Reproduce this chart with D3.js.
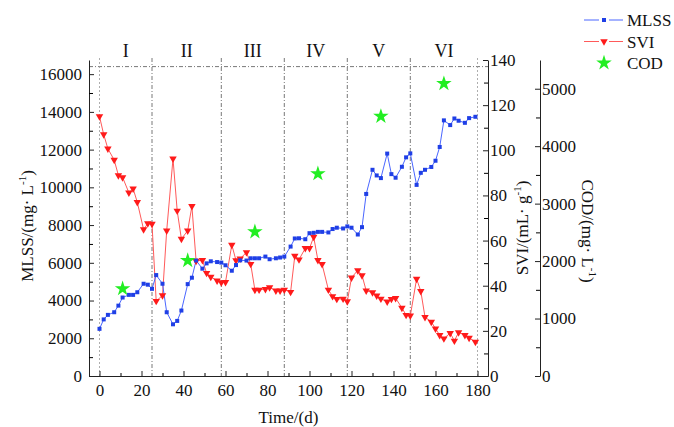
<!DOCTYPE html>
<html>
<head>
<meta charset="utf-8">
<script src="https://cdn.jsdelivr.net/npm/d3@7"></script>
<style>
    body { margin: 0; background: #fff; }
    svg text { font-family: "Liberation Serif", "Times New Roman", serif; fill: #111; }
</style>
</head>
<body>
<svg id="chart" width="674" height="427"></svg>
<script>
// MLSS (mg/L)
const mlssDays = [0, 2, 4, 7, 9, 11, 14, 16, 18, 21, 23, 25, 27, 30, 32, 35, 37, 39, 42, 44, 46, 49,
    51, 53, 56, 58, 60, 63, 65, 67, 70, 72, 74, 76, 79, 81, 84, 86, 88, 91, 93, 95, 98,
    100, 102, 104, 106, 109, 111, 113, 116, 118, 120, 123, 125, 127, 130, 132, 134, 137, 139,
    141, 144, 146, 148, 151, 153, 155, 158, 160, 162, 164, 167, 169, 171, 174, 176, 179];
const mlssValues = [2500, 3000, 3240, 3380, 3730, 4160, 4300, 4300, 4440, 4890, 4840, 4620, 5350, 4890, 3380, 2740, 2920, 3470, 4870, 5210, 6120, 5690,
    5970, 6080, 6040, 6010, 5870, 5580, 5880, 6130, 6120, 6240, 6240, 6240, 6330, 6190, 6240, 6280, 6330, 6860, 7290, 7300, 7250,
    7570, 7590, 7640, 7640, 7610, 7790, 7860, 7820, 7930, 7860, 7500, 7890, 9650, 10930, 10630, 10490, 11790, 10700,
    10510, 11090, 11590, 11800, 10130, 10770, 10930, 11080, 11410, 12140, 13550, 13300, 13650, 13530, 13420, 13670, 13740];

// SVI (mL/g)
const sviDays = mlssDays;
const sviValues = [115, 107, 100.7, 95.7, 88.9, 88, 81.2, 83, 77, 64.9, 67.6, 67.4, 33.2, 35.7, 64.4, 96.3, 73.2, 60.7, 64.4, 75.2, 51, 51.3,
    45.6, 43.9, 42.2, 41.5, 41.6, 58.1, 51.2, 52, 54.8, 49.6, 38.1, 38.2, 38.5, 39.2, 37.8, 37.8, 38.2, 37.2, 53.2, 51.6, 56.6,
    56.6, 61.6, 51.3, 49.5, 38.2, 35.3, 34.1, 34.2, 33, 43.6, 46.8, 44.6, 37.8, 37, 35.6, 34.2, 32.9, 34.1,
    34.5, 30.2, 27, 26.7, 43, 37.6, 26.1, 24, 21, 18.1, 16.6, 19, 15.6, 19.3, 18.1, 16.9, 15.1];

// COD (mg/L), one value per stage
const codDays = [11, 42, 74, 104, 134, 164];
const codValues = [1520, 2010, 2510, 3520, 4520, 5090];

// stages
const stageNames = ['I', 'II', 'III', 'IV', 'V', 'VI'];
const stageBounds = [0, 25, 58, 88, 118, 148, 180];
const stageTopLine = 16400; // MLSS level of the dash-dot line

const xTicks = [0, 20, 40, 60, 80, 100, 120, 140, 160, 180];
const mlssTicks = [0, 2000, 4000, 6000, 8000, 10000, 12000, 14000, 16000];
const sviTicks = [0, 20, 40, 60, 80, 100, 120, 140];
const codTicks = [0, 1000, 2000, 3000, 4000, 5000];

const blue = '#1f3fe6';
const red = '#ff1a1a';
const green = '#22ee22';
const serif = '"Liberation Serif", "Times New Roman", serif';

let svg = d3.select('#chart');

let x = d3.scaleLinear().domain([-5, 185]).range([89, 488]);
let yMlss = d3.scaleLinear().domain([0, 16750]).range([376, 60]);
let ySvi = d3.scaleLinear().domain([0, 140]).range([376, 60]);
let yCod = d3.scaleLinear().domain([0, 5500]).range([376, 60]);
const codAxisX = 540;
const plain = d3.format('d');

// stage separators
let stageGroup = svg.append('g');
stageGroup.append('line')
    .attr('x1', x.range()[0]).attr('x2', x.range()[1])
    .attr('y1', yMlss(stageTopLine)).attr('y2', yMlss(stageTopLine))
    .attr('stroke', '#555').attr('stroke-width', 0.8)
    .attr('stroke-dasharray', '4,2,1,2');
stageGroup.selectAll('line.sep')
    .data(stageBounds)
    .join('line')
    .classed('sep', true)
    .attr('x1', d => x(d)).attr('x2', d => x(d))
    .attr('y1', yMlss.range()[1] - 2).attr('y2', yMlss(0))
    .attr('stroke', (d, i) => (i === 0 || i === stageBounds.length - 1) ? '#999' : '#555')
    .attr('stroke-width', 0.8)
    .attr('stroke-dasharray', (d, i) => (i === 0 || i === stageBounds.length - 1) ? '2,2' : '4,2,1,2');
stageGroup.selectAll('text')
    .data(stageNames)
    .join('text')
    .attr('x', (d, i) => x((stageBounds[i] + stageBounds[i + 1]) / 2))
    .attr('y', 57)
    .attr('text-anchor', 'middle')
    .attr('font-size', 18)
    .text(d => d);

// axes
function styleAxis(g) {
    g.attr('font-family', serif).attr('font-size', 17);
    g.selectAll('text').style('font-family', serif).attr('fill', '#111');
    g.selectAll('line, path').attr('stroke', '#222');
}

let xAxis = svg.append('g').attr('transform', `translate(0,${yMlss(0)})`)
    .call(d3.axisBottom(x).tickValues(xTicks).tickFormat(plain).tickSize(-5).tickSizeOuter(0).tickPadding(8));
svg.append('g').attr('transform', `translate(0,${yMlss(0)})`)
    .call(d3.axisBottom(x).tickValues(d3.range(10, 180, 20)).tickSize(-3).tickSizeOuter(0).tickFormat(''))
    .call(g => g.select('path').remove());
styleAxis(xAxis);

let leftAxis = svg.append('g').attr('transform', `translate(${x.range()[0]},0)`)
    .call(d3.axisLeft(yMlss).tickValues(mlssTicks).tickFormat(plain).tickSize(-5).tickSizeOuter(0).tickPadding(7));
svg.append('g').attr('transform', `translate(${x.range()[0]},0)`)
    .call(d3.axisLeft(yMlss).tickValues(d3.range(1000, 16750, 2000)).tickSize(-4).tickFormat(''))
    .call(g => g.select('path').remove());
styleAxis(leftAxis);

let sviAxis = svg.append('g').attr('transform', `translate(${x.range()[1]},0)`)
    .call(d3.axisRight(ySvi).tickValues(sviTicks).tickFormat(plain).tickSize(-5).tickSizeOuter(0).tickPadding(2));
svg.append('g').attr('transform', `translate(${x.range()[1]},0)`)
    .call(d3.axisRight(ySvi).tickValues(d3.range(10, 140, 20)).tickSize(-4).tickFormat(''))
    .call(g => g.select('path').remove());
styleAxis(sviAxis);

let codAxis = svg.append('g').attr('transform', `translate(${codAxisX},0)`)
    .call(d3.axisRight(yCod).tickValues(codTicks).tickFormat(plain).tickSize(-5).tickSizeOuter(0).tickPadding(2));
svg.append('g').attr('transform', `translate(${codAxisX},0)`)
    .call(d3.axisRight(yCod).tickValues(d3.range(500, 5500, 1000)).tickSize(-4).tickFormat(''))
    .call(g => g.select('path').remove());
styleAxis(codAxis);

// axis titles
function unitTitle(sel, main, tail) {
    sel.append('tspan').text(main);
    sel.append('tspan').attr('font-size', 11).attr('dy', -7).text('-1');
    sel.append('tspan').attr('dy', 7).text(tail);
}
svg.append('text')
    .attr('transform', 'translate(33,226) rotate(-90)')
    .attr('text-anchor', 'middle').attr('font-size', 17)
    .call(unitTitle, 'MLSS/(mg· L', ')');
svg.append('text')
    .attr('transform', 'translate(528,228) rotate(-90)')
    .attr('text-anchor', 'middle').attr('font-size', 17)
    .call(unitTitle, 'SVI/(mL· g', ')');
svg.append('text')
    .attr('transform', 'translate(582,231) rotate(90)')
    .attr('text-anchor', 'middle').attr('font-size', 17)
    .call(unitTitle, 'COD/(mg· L', ')');
svg.append('text')
    .attr('x', x(90)).attr('y', 423)
    .attr('text-anchor', 'middle').attr('font-size', 17)
    .text('Time/(d)');

// series
let mlss = mlssDays.map((d, i) => ({ day: d, value: mlssValues[i] }));
let svi = sviDays.map((d, i) => ({ day: d, value: sviValues[i] }));
let cod = codDays.map((d, i) => ({ day: d, value: codValues[i] }));

svg.append('path')
    .datum(svi)
    .attr('fill', 'none').attr('stroke', '#ff5a5a').attr('stroke-width', 1)
    .attr('d', d3.line().x(d => x(d.day)).y(d => ySvi(d.value)));
svg.append('path')
    .datum(mlss)
    .attr('fill', 'none').attr('stroke', '#4a66ff').attr('stroke-width', 1)
    .attr('d', d3.line().x(d => x(d.day)).y(d => yMlss(d.value)));

let triangle = d3.symbol().type(d3.symbolTriangle).size(24);
svg.append('g').selectAll('path')
    .data(svi)
    .join('path')
    .attr('d', triangle)
    .attr('transform', d => `translate(${x(d.day)},${ySvi(d.value)}) rotate(180)`)
    .attr('fill', red);

svg.append('g').selectAll('rect')
    .data(mlss)
    .join('rect')
    .attr('x', d => x(d.day) - 2).attr('y', d => yMlss(d.value) - 2)
    .attr('width', 4).attr('height', 4)
    .attr('fill', blue);

let star = d3.symbol().type(d3.symbolStar).size(75);
svg.append('g').selectAll('path')
    .data(cod)
    .join('path')
    .attr('d', star)
    .attr('transform', d => `translate(${x(d.day)},${yCod(d.value)})`)
    .attr('fill', green);

// legend
let legend = svg.append('g').attr('transform', 'translate(584,0)');
let legendItems = [
    { name: 'MLSS', color: '#4a66ff', mark: 'square' },
    { name: 'SVI', color: '#ff5a5a', mark: 'triangle' },
    { name: 'COD', color: null, mark: 'star' }
];
legendItems.forEach((item, i) => {
    let cy = 20 + i * 21.5;
    let row = legend.append('g');
    if (item.color) {
        row.append('line').attr('x1', 0).attr('x2', 15).attr('y1', cy).attr('y2', cy)
            .attr('stroke', item.color).attr('stroke-width', 1);
        row.append('line').attr('x1', 25).attr('x2', 39).attr('y1', cy).attr('y2', cy)
            .attr('stroke', item.color).attr('stroke-width', 1);
    }
    if (item.mark === 'square') {
        row.append('rect').attr('x', 18).attr('y', cy - 2).attr('width', 4).attr('height', 4).attr('fill', blue);
    } else if (item.mark === 'triangle') {
        row.append('path').attr('d', triangle).attr('transform', `translate(20,${cy}) rotate(180)`).attr('fill', red);
    } else {
        row.append('path').attr('d', star).attr('transform', `translate(20,${cy})`).attr('fill', green);
    }
    row.append('text').attr('x', 43).attr('y', cy + 6).attr('font-size', 17).text(item.name);
});
</script>
</body>
</html>
